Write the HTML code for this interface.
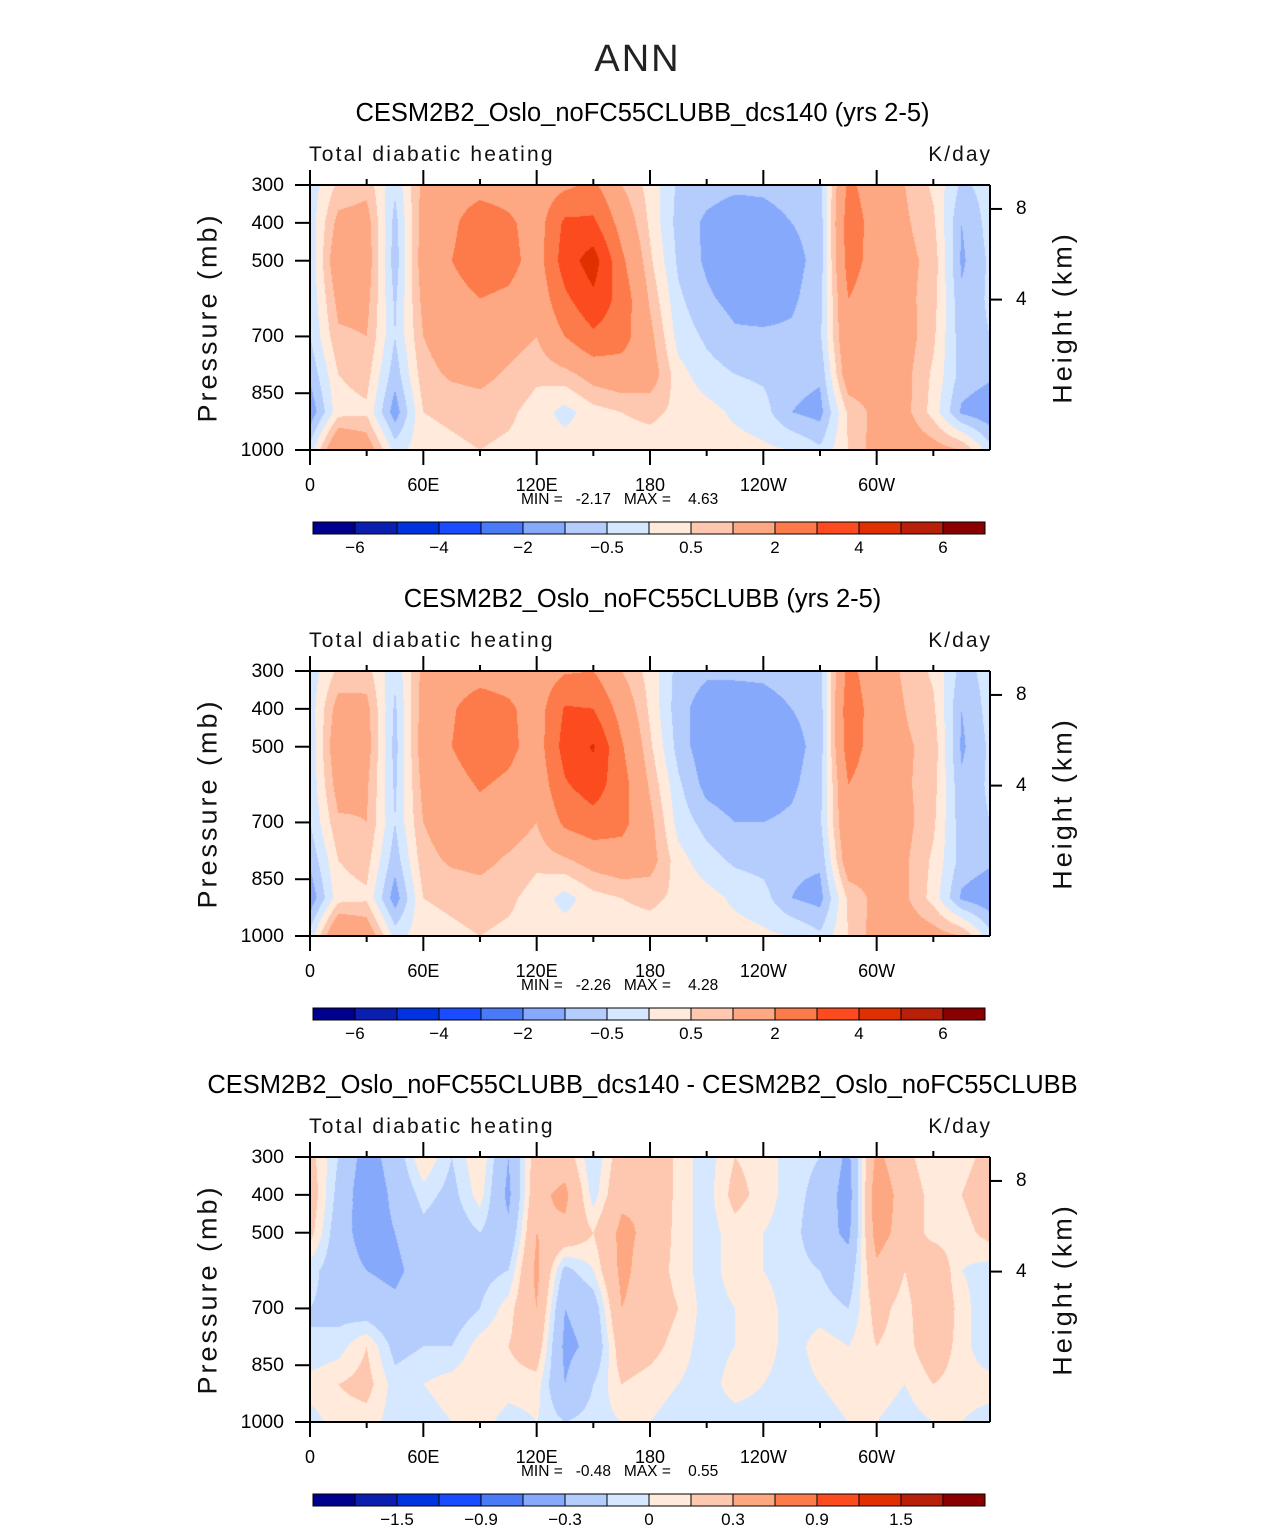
<!DOCTYPE html>
<html><head><meta charset="utf-8">
<style>
body{margin:0;background:#fff;width:1285px;height:1531px;position:relative;overflow:hidden;font-family:"Liberation Sans",sans-serif;}
.t{position:absolute;white-space:nowrap;color:#000;}
canvas{position:absolute;}
svg{position:absolute;left:0;top:0;}
</style></head><body>
<div class="t" style="left:0;width:1275px;text-align:center;top:38px;font-size:38px;letter-spacing:2px;color:#222;">ANN</div>
<div id="root"></div>
<script>
// ---- data ----
const lons = [0,15,30,45,60,75,90,105,120,135,150,165,180,195,210,225,240,255,270,285,300,315,330,345];
const pressures = [300,400,500,600,700,800,900,1000];
const panel1Values = [
[-0.3,0.6,0.8,-0.4,1.2,1.5,1.6,1.5,1.4,1.8,2.2,1.0,0.3,-0.6,-0.8,-0.9,-0.9,-0.8,-0.7,2.2,1.5,1.0,0.4,-0.6],
[-0.3,1.2,1.3,-0.7,1.3,1.8,2.6,2.2,1.5,3.2,3.2,1.6,0.4,-0.7,-1.1,-1.3,-1.2,-1.0,-0.8,2.5,1.6,1.1,0.6,-1.0],
[-0.4,1.6,1.4,-0.8,1.4,2.0,2.6,2.4,1.5,3.5,4.5,2.2,0.6,-0.6,-1.1,-1.5,-1.5,-1.2,-0.8,2.4,1.6,1.2,0.8,-1.1],
[-0.4,1.2,1.2,-0.6,1.2,1.6,2.0,1.8,1.3,2.8,3.8,2.6,0.9,-0.4,-0.9,-1.2,-1.3,-1.1,-0.7,2.0,1.5,1.2,0.7,-0.9],
[-0.5,0.9,1.0,-0.5,1.0,1.4,1.6,1.3,1.0,2.0,2.8,2.4,1.2,-0.2,-0.6,-0.9,-0.9,-0.9,-0.6,1.8,1.5,1.3,0.6,-0.8],
[-0.9,0.5,0.7,-0.8,0.8,1.1,1.2,0.9,0.6,0.8,1.3,1.5,1.4,0.2,-0.3,-0.5,-0.6,-0.8,-0.9,1.5,1.4,1.2,0.4,-0.7],
[-1.4,0.3,0.4,-1.3,0.5,0.6,0.7,0.6,0.3,-0.2,0.3,0.5,0.6,0.4,0.2,-0.1,-0.3,-1.0,-1.2,0.6,1.2,1.2,0.3,-1.1],
[-0.3,2.0,1.5,-0.2,0.3,0.4,0.5,0.4,0.3,0.3,0.3,0.3,0.3,0.3,0.2,0.2,0.1,0.0,-0.4,0.5,1.3,1.5,1.3,1.0]];
const panel2Values = [
[-0.3,0.6,0.7,-0.4,1.2,1.5,1.6,1.5,1.4,1.9,2.0,1.0,0.3,-0.7,-0.9,-0.9,-0.9,-0.8,-0.7,2.3,1.4,0.9,0.4,-0.7],
[-0.3,1.3,1.2,-0.6,1.3,1.9,2.5,2.2,1.5,3.1,3.0,1.6,0.4,-0.8,-1.3,-1.3,-1.2,-1.0,-0.8,2.6,1.5,1.0,0.6,-1.0],
[-0.4,1.6,1.3,-0.7,1.4,2.0,2.6,2.3,1.5,3.4,4.1,2.1,0.6,-0.7,-1.4,-1.5,-1.5,-1.2,-0.8,2.5,1.5,1.1,0.8,-1.1],
[-0.4,1.3,1.1,-0.6,1.2,1.6,2.1,1.8,1.3,2.9,3.5,2.4,0.9,-0.4,-1.2,-1.4,-1.3,-1.1,-0.7,2.0,1.4,1.1,0.7,-0.9],
[-0.5,0.9,1.0,-0.5,1.0,1.4,1.6,1.4,1.0,2.2,2.6,2.3,1.2,-0.2,-0.7,-1.0,-1.0,-0.9,-0.6,1.8,1.4,1.2,0.6,-0.8],
[-0.9,0.5,0.7,-0.8,0.8,1.1,1.2,0.9,0.6,0.9,1.3,1.5,1.3,0.2,-0.3,-0.6,-0.7,-0.9,-0.9,1.5,1.3,1.1,0.4,-0.7],
[-1.4,0.3,0.4,-1.3,0.5,0.6,0.7,0.6,0.3,-0.2,0.3,0.5,0.6,0.4,0.2,-0.1,-0.3,-1.0,-1.2,0.6,1.2,1.1,0.3,-1.1],
[-0.3,2.0,1.6,-0.2,0.3,0.4,0.5,0.4,0.3,0.3,0.3,0.3,0.3,0.3,0.2,0.2,0.1,0.0,-0.4,0.5,1.3,1.5,1.3,1.0]];
const panel3Values = [
[0.15,-0.1,-0.4,-0.2,0.1,-0.1,0.1,-0.3,0.2,0.2,-0.1,0.2,0.3,0.05,-0.05,0.1,0.05,-0.05,-0.1,-0.35,0.35,0.15,0.0,0.05],
[0.2,-0.15,-0.45,-0.25,-0.05,-0.15,0.05,-0.35,0.25,0.35,-0.05,0.25,0.3,0.05,-0.05,0.15,0.05,-0.05,-0.15,-0.4,0.45,0.2,0.05,0.1],
[0.15,-0.2,-0.4,-0.3,-0.15,-0.2,-0.1,-0.25,0.3,0.25,0.1,0.35,0.25,0.05,-0.05,0.05,0.0,-0.05,-0.2,-0.35,0.4,0.2,0.05,0.05],
[-0.05,-0.2,-0.3,-0.35,-0.2,-0.25,-0.15,-0.1,0.35,-0.15,0.0,0.35,0.2,0.05,-0.05,0.05,0.0,-0.05,-0.1,-0.2,0.25,0.1,0.25,0.0],
[-0.1,-0.15,-0.2,-0.25,-0.15,-0.2,-0.1,0.05,0.3,-0.3,-0.2,0.3,0.2,0.1,-0.05,0.0,0.05,-0.05,-0.05,-0.1,0.15,0.05,0.25,0.05],
[-0.1,-0.05,0.1,-0.15,-0.1,-0.1,0.05,0.1,0.2,-0.35,-0.25,0.2,0.15,0.05,-0.05,0.0,0.05,-0.05,0.05,0.0,0.1,0.05,0.2,0.05],
[0.05,0.1,0.15,-0.05,0.0,0.05,0.1,0.05,0.05,-0.3,-0.1,0.1,0.05,0.0,-0.05,0.05,0.0,-0.05,0.0,0.05,0.05,0.0,0.1,0.05],
[-0.05,0.05,0.05,-0.05,-0.05,0.0,0.05,-0.05,0.0,-0.1,-0.05,0.0,0.0,-0.05,-0.05,-0.05,-0.05,-0.05,-0.05,0.0,0.0,-0.05,0.0,0.0]];
const levelsAbs = [-6,-5,-4,-3,-2,-1,-0.5,0,0.5,1,2,3,4,5,6];
const levelsDiff = [-1.8,-1.5,-1.2,-0.9,-0.6,-0.3,-0.1,0,0.1,0.3,0.6,0.9,1.2,1.5,1.8];
const labelsAbs = ["-6","-4","-2","-0.5","0.5","2","4","6"];
const labelsDiff = ["-1.5","-0.9","-0.3","0","0.3","0.9","1.5"];
const colors = ["#00008f","#0a1fb0","#0033e0","#1a4cff","#4a7af8","#86a9fb","#b5cdfd","#d6e8ff","#ffeadb","#fec8b0","#fda882","#fd7a4a","#fb4b1f","#e03000","#b8200a","#8a0000"];
const xTickLabels = ["0","60E","120E","180","120W","60W"];
const pTicks = [300,400,500,700,850,1000];
const hTicks = [8,4];
const titles = ["CESM2B2_Oslo_noFC55CLUBB_dcs140 (yrs 2-5)","CESM2B2_Oslo_noFC55CLUBB (yrs 2-5)","CESM2B2_Oslo_noFC55CLUBB_dcs140 - CESM2B2_Oslo_noFC55CLUBB"];
const minmax = [["-2.17","4.63"],["-2.26","4.28"],["-0.48","0.55"]];

const PX=310,PW=680,PH=265;
const panelTops=[185,671,1157];
const root=document.getElementById('root');
const rgb=colors.map(c=>[parseInt(c.slice(1,3),16),parseInt(c.slice(3,5),16),parseInt(c.slice(5,7),16)]);
function xLon(l){return PX+l/360*PW;}
function yP(p,top){return top+(p-300)/700*PH;}
function binOf(v,lv){let i=0;while(i<lv.length&&v>=lv[i])i++;return i;}
function interp(vals,lon,p){
  const n=lons.length;let fx=lon/15;let i0=Math.floor(fx);let tx=fx-i0;i0=i0%n;const i1=(i0+1)%n;
  let fy=(p-300)/100;let j0=Math.min(Math.floor(fy),pressures.length-2);let ty=fy-j0;
  const a=vals[j0][i0],b=vals[j0][i1],c=vals[j0+1][i0],d=vals[j0+1][i1];
  return (a*(1-tx)+b*tx)*(1-ty)+(c*(1-tx)+d*tx)*ty;
}
function addText(txt,name,css){const d=document.createElement('div');d.className='t';d.textContent=txt;


d.style.cssText=css;root.appendChild(d);return d;}
const SVGNS="http://www.w3.org/2000/svg";
const svg=document.createElementNS(SVGNS,'svg');svg.setAttribute('width','1285');svg.setAttribute('height','1531');


function line(x1,y1,x2,y2,w,name){const l=document.createElementNS(SVGNS,'line');
l.setAttribute('x1',x1);l.setAttribute('y1',y1);l.setAttribute('x2',x2);l.setAttribute('y2',y2);l.setAttribute('stroke','#000');l.setAttribute('stroke-width',w);


svg.appendChild(l);}
const allVals=[panel1Values,panel2Values,panel3Values];
panelTops.forEach((top,k)=>{
  const vals=allVals[k];const lv=k<2?levelsAbs:levelsDiff;
  const cv=document.createElement('canvas');cv.width=PW;cv.height=PH;cv.style.left=PX+'px';cv.style.top=top+'px';
  
  
  const ctx=cv.getContext('2d');const img=ctx.createImageData(PW,PH);
  for(let y=0;y<PH;y++){const p=300+(y+0.5)/PH*700;for(let x=0;x<PW;x++){const lon=(x+0.5)/PW*360;
    const c=rgb[binOf(interp(vals,lon,p),lv)];const o=(y*PW+x)*4;img.data[o]=c[0];img.data[o+1]=c[1];img.data[o+2]=c[2];img.data[o+3]=255;}}
  ctx.putImageData(img,0,0);root.appendChild(cv);
  const tt=top-185;
  addText(titles[k],'panel-title-'+(k+1),`left:0;width:1285px;text-align:center;top:${99+tt}px;font-size:25.5px;`);
  addText('Total diabatic heating','field-label-'+(k+1),`left:309px;top:${143+tt}px;font-size:21px;letter-spacing:2.2px;color:#111;`);
  addText('K/day','units-label-'+(k+1),`left:900px;width:92px;text-align:right;top:${143+tt}px;font-size:21px;letter-spacing:2px;color:#111;`);
  addText('Pressure (mb)','y-axis-title-'+(k+1),`left:78px;width:260px;text-align:center;top:${302+tt}px;font-size:27px;letter-spacing:3px;color:#111;transform:rotate(-90deg);`);
  addText('Height (km)','right-axis-title-'+(k+1),`left:953px;width:220px;text-align:center;top:${302+tt}px;font-size:27px;letter-spacing:3px;color:#111;transform:rotate(-90deg);`);
  line(PX,top,PX+PW,top,2,'frame-top');line(PX,top+PH,PX+PW,top+PH,2,'frame-bottom');
  line(PX,top,PX,top+PH,2,'frame-left');line(PX+PW,top,PX+PW,top+PH,2,'frame-right');
  for(let l=0;l<360;l+=30){const x=xLon(l);const big=l%60===0;const L=big?15:6;
    line(x,top,x,top-L,2,'x-tick-top');line(x,top+PH,x,top+PH+L,2,'x-tick-bottom');}
  xTickLabels.forEach((s,i)=>addText(s,'x-tick-label',`left:${xLon(i*60)-40}px;width:80px;text-align:center;top:${top+PH+25}px;font-size:18px;`));
  pTicks.forEach(p=>{const y=yP(p,top);line(PX,y,PX-15,y,2,'y-tick');
    addText(String(p),'y-tick-label',`left:190px;width:94px;text-align:right;top:${y-11}px;font-size:19.5px;`);});
  hTicks.forEach(h=>{const p=1000*Math.exp(-h/7.9);const y=yP(p,top);line(PX+PW,y,PX+PW+12,y,2,'height-tick');
    addText(String(h),'height-tick-label',`left:1016px;top:${y-11}px;font-size:19px;`);});
  addText('MIN =   '+minmax[k][0]+'   MAX =    '+minmax[k][1],'min-max-label-'+(k+1),`left:521px;top:${top+PH+41}px;font-size:15.5px;white-space:pre;`);
  const cbT=top+337,cbX=313,bw=42;
  colors.forEach((c,i)=>{const r=document.createElementNS(SVGNS,'rect');r.setAttribute('x',cbX+i*bw);r.setAttribute('y',cbT);r.setAttribute('width',bw);r.setAttribute('height',12);r.setAttribute('fill',c);r.setAttribute('stroke','#000');r.setAttribute('stroke-width',1);
    
    
    svg.appendChild(r);});
  const labs=k<2?labelsAbs:labelsDiff;const start=k<2?1:2;
  labs.forEach((s,i)=>{const x=cbX+(start+i*2)*bw;
    addText(s.replace('-','\u2212'),'colorbar-label',`left:${x-40}px;width:80px;text-align:center;top:${cbT+16}px;font-size:17px;`);});
});
root.appendChild(svg);
</script>
</body></html>
